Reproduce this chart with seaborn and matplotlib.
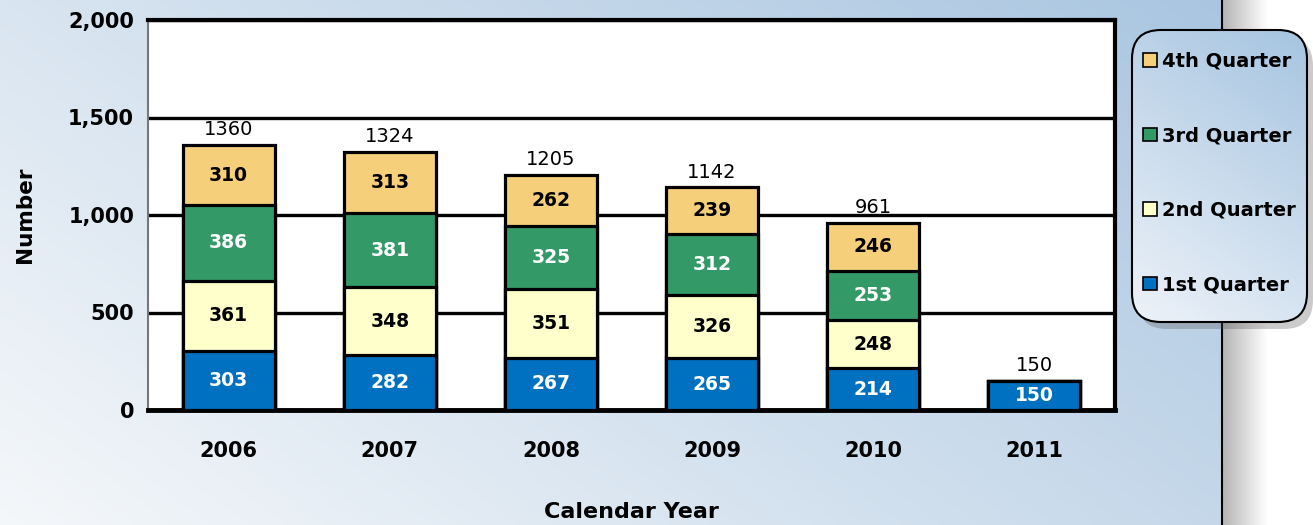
import numpy as np
import pandas as pd
import matplotlib
matplotlib.use("Agg")
import matplotlib.pyplot as plt
from matplotlib.patches import Patch, Rectangle, FancyBboxPatch
import seaborn as sns

years = ["2006", "2007", "2008", "2009", "2010", "2011"]
q1 = [303, 282, 267, 265, 214, 150]
q2 = [361, 348, 351, 326, 248, 0]
q3 = [386, 381, 325, 312, 253, 0]
q4 = [310, 313, 262, 239, 246, 0]
quarter_names = ["1st Quarter", "2nd Quarter", "3rd Quarter", "4th Quarter"]
quarter_colors = ["#0070C0", "#FFFFCC", "#339966", "#F6CF7A"]
text_colors = ["white", "black", "white", "black"]

sns.set_theme(style="white")
plt.rcParams["font.family"] = ["DejaVu Sans"]
plt.rcParams["text.color"] = "black"
plt.rcParams["axes.labelcolor"] = "black"
plt.rcParams["xtick.color"] = "black"
plt.rcParams["ytick.color"] = "black"

df = pd.DataFrame({"year": years, "q1": q1, "q2": q2, "q3": q3, "q4": q4})
cols = ["q1", "q2", "q3", "q4"]
cum = df[cols].cumsum(axis=1)
df["total"] = cum["q4"]

W, H = 1313, 525
fig = plt.figure(figsize=(W / 100, H / 100), dpi=100)


def grad(c0, c1, wx, wy, n=200):
    xx, yy = np.meshgrid(np.linspace(0, 1, n), np.linspace(0, 1, n))
    t = np.clip(wx * xx + wy * yy, 0, 1)
    return np.array(c0) + (np.array(c1) - np.array(c0)) * t[..., None]


# background panel
bg = fig.add_axes([0, 0, 1, 1], zorder=-10)
bg.imshow(grad([0.96, 0.97, 0.98], [0.65, 0.765, 0.875], 0.65, 0.35),
          extent=[0, 1, 0, 1], origin="lower", aspect="auto", zorder=1)
xr = 1222 / W
bg.add_patch(Rectangle((xr, 0), 1, 1, color="white", zorder=3))
shade = np.linspace(0.6, 1.0, 100) ** 0.7
bg.imshow(np.stack([shade] * 3, axis=-1)[None, :, :], extent=[xr, xr + 45 / W, 0, 1],
          origin="lower", aspect="auto", zorder=3.5)
bg.axvline(xr, color="black", lw=1.5, zorder=4)

# legend box
bx0, bx1, by0, by1 = 1132 / W, 1307 / W, 1 - 322 / H, 1 - 30 / H
shadow = FancyBboxPatch((bx0 + 6 / W, by0 - 7 / H), bx1 - bx0, by1 - by0,
                        boxstyle="round,pad=0,rounding_size=0.022", mutation_aspect=W / H,
                        facecolor="#555555", edgecolor="none", alpha=0.3, zorder=5)
bg.add_patch(shadow)
box = FancyBboxPatch((bx0, by0), bx1 - bx0, by1 - by0,
                     boxstyle="round,pad=0,rounding_size=0.022", mutation_aspect=W / H,
                     facecolor="none", edgecolor="black", lw=1.5, zorder=7)
bg.add_patch(box)
im = bg.imshow(grad([0.93, 0.95, 0.975], [0.65, 0.77, 0.88], 0.3, 0.7),
               extent=[bx0, bx1, by0, by1], origin="lower", aspect="auto", zorder=6)
im.set_clip_path(box)
bg.set_xlim(0, 1)
bg.set_ylim(0, 1)
bg.axis("off")

ax = fig.add_axes([148 / W, 1 - 410 / H, (1115 - 148) / W, 390 / H])
ax.set_facecolor("white")

# stacked bars: draw cumulative totals from top segment down
for i in range(3, -1, -1):
    sns.barplot(x=df["year"], y=cum[cols[i]], color=quarter_colors[i], saturation=1,
                width=0.57, edgecolor="black", linewidth=2.3, ax=ax, zorder=3)

for j in range(len(years)):
    base = 0
    for i, c in enumerate(cols):
        v = df[c][j]
        if v > 0:
            ax.text(j, base + v / 2, str(v), ha="center", va="center", fontsize=13.5,
                    fontweight="bold", color=text_colors[i], zorder=5)
        base += v
    ax.annotate(str(df["total"][j]), (j, df["total"][j]), xytext=(0, 4),
                textcoords="offset points", ha="center", va="bottom",
                fontsize=14, color="black", zorder=5)

ax.set_ylim(0, 2000)
ax.set_xlim(-0.5, 5.5)
ax.set_yticks([0, 500, 1000, 1500, 2000])
ax.set_yticklabels(["0", "500", "1,000", "1,500", "2,000"])
ax.yaxis.grid(True, color="black", lw=2.4, zorder=1)
ax.set_axisbelow(True)
ax.tick_params(axis="both", length=0, labelsize=15, pad=10, labelcolor="black")
ax.tick_params(axis="x", pad=22)
for lab in ax.get_xticklabels() + ax.get_yticklabels():
    lab.set_fontweight("bold")
ax.set_xlabel("Calendar Year", fontsize=16, fontweight="bold", labelpad=30, color="black")
ax.set_ylabel("Number", fontsize=15.5, fontweight="bold", labelpad=24, color="black")

ax.spines["left"].set_color("#777777")
ax.spines["left"].set_linewidth(1.5)
ax.spines["bottom"].set_color("black")
ax.spines["bottom"].set_linewidth(3.5)
ax.spines["right"].set_color("black")
ax.spines["right"].set_linewidth(3)
ax.spines["top"].set_color("black")
ax.spines["top"].set_linewidth(3)

handles = [Patch(facecolor=quarter_colors[i], edgecolor="black", lw=1.2) for i in range(3, -1, -1)]
labels = [quarter_names[i] for i in range(3, -1, -1)]
leg = ax.legend(handles, labels, loc="center", bbox_to_anchor=((bx0 + bx1) / 2, (by0 + by1) / 2 + 3 / H),
                bbox_transform=fig.transFigure, frameon=False,
                prop={"size": 14, "weight": "bold"}, labelspacing=2.85, labelcolor="black",
                handlelength=0.7, handleheight=0.7, handletextpad=0.3, borderaxespad=0, borderpad=0)
leg.set_zorder(20)

fig.savefig("out.png", dpi=100)
